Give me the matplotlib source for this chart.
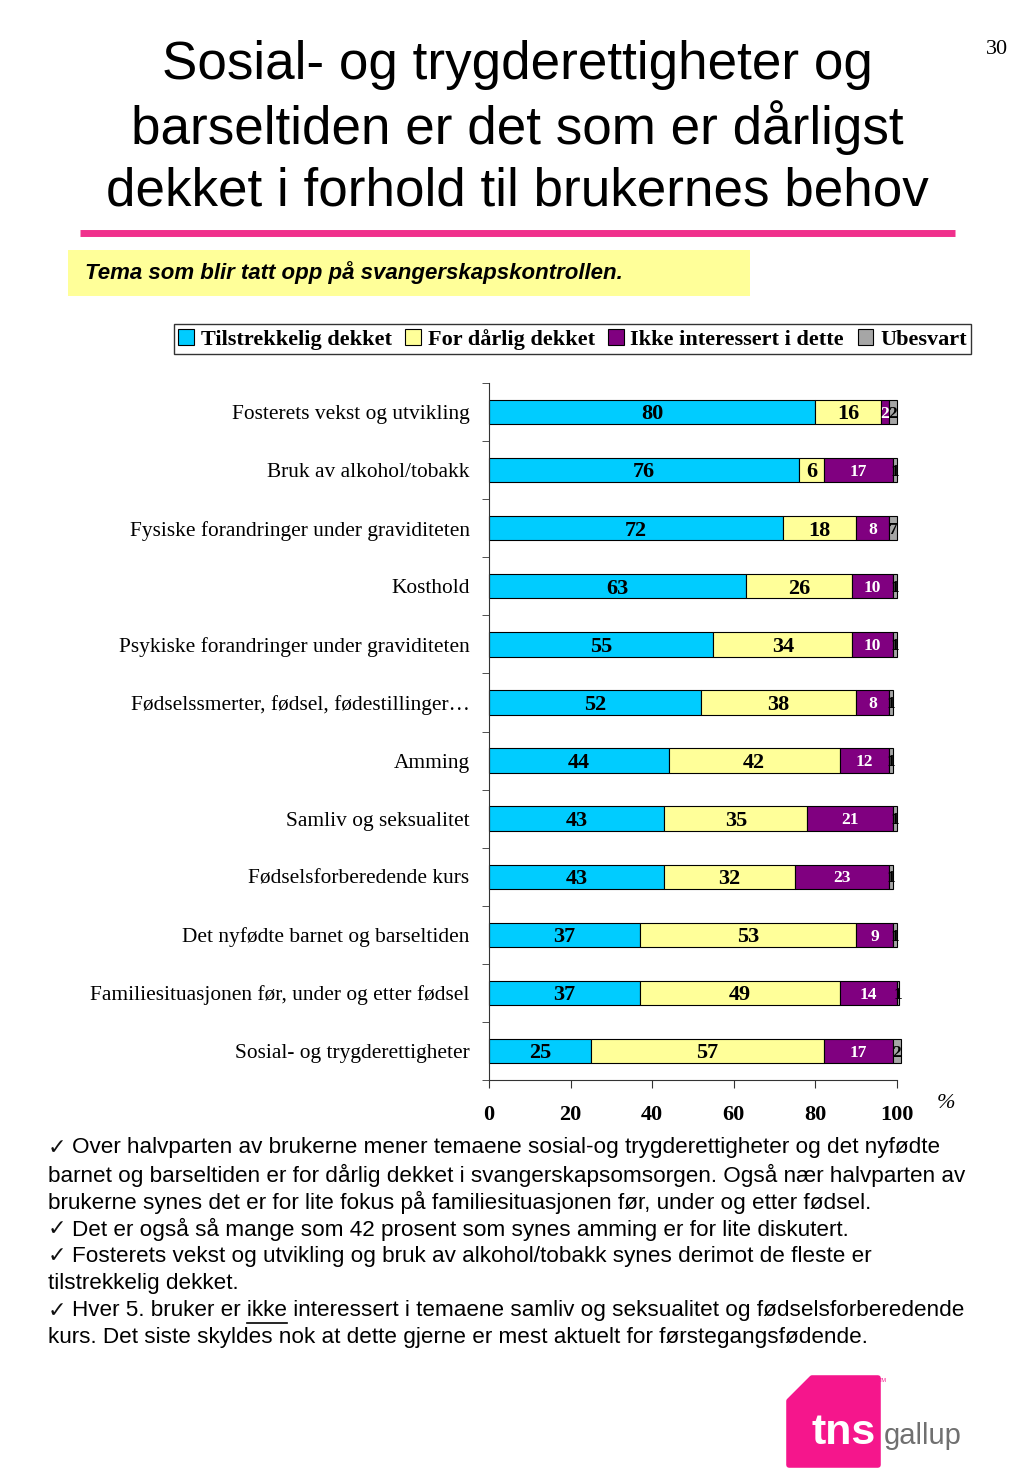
import matplotlib
matplotlib.use("Agg")
import matplotlib.pyplot as plt
import numpy as np
from matplotlib.patches import Rectangle, Polygon, Patch

categories = [
    "Fosterets vekst og utvikling",
    "Bruk av alkohol/tobakk",
    "Fysiske forandringer under graviditeten",
    "Kosthold",
    "Psykiske forandringer under graviditeten",
    "Fødselssmerter, fødsel, fødestillinger…",
    "Amming",
    "Samliv og seksualitet",
    "Fødselsforberedende kurs",
    "Det nyfødte barnet og barseltiden",
    "Familiesituasjonen før, under og etter fødsel",
    "Sosial- og trygderettigheter",
]
tilstrekkelig = [80, 76, 72, 63, 55, 52, 44, 43, 43, 37, 37, 25]
for_darlig = [16, 6, 18, 26, 34, 38, 42, 35, 32, 53, 49, 57]
ikke_interessert = [2, 17, 8, 10, 10, 8, 12, 21, 23, 9, 14, 17]
ubesvart = [2, 1, 2, 1, 1, 1, 1, 1, 1, 1, 0.5, 2]
ubesvart_labels = ["2", "1", "7", "1", "1", "1", "1", "1", "1", "1", "1", "2"]

series_names = ["Tilstrekkelig dekket", "For dårlig dekket", "Ikke interessert i dette", "Ubesvart"]
colors = ["#00CCFF", "#FFFF99", "#800080", "#A6A6A6"]
xticks = [0, 20, 40, 60, 80, 100]

W, H = 1024, 1479
fig = plt.figure(figsize=(W / 100, H / 100), dpi=100)


def fx(x):
    return x / W


def fy(y):
    return 1 - y / H


SERIF = "Liberation Serif"
SANS = "Liberation Sans"

# Title
title_lines = [
    "Sosial- og trygderettigheter og",
    "barseltiden er det som er dårligst",
    "dekket i forhold til brukernes behov",
]
for i, ln in enumerate(title_lines):
    fig.text(fx(517), fy(65 + i * 63), ln, ha="center", va="center",
             fontsize=38.2, family=SANS, color="black")
fig.text(fx(997), fy(50), "30", ha="center", va="center", fontsize=16, family=SERIF)

# pink line
fig.add_artist(plt.Line2D([fx(80), fx(955)], [fy(233), fy(233)], color="#F0308C", lw=5,
                          transform=fig.transFigure, solid_capstyle="butt"))
# yellow box
fig.add_artist(Rectangle((fx(68), fy(296)), fx(750) - fx(68), fy(250) - fy(296),
                         transform=fig.transFigure, facecolor="#FFFF99", edgecolor="none"))
fig.text(fx(85), fy(273), "Tema som blir tatt opp på svangerskapskontrollen.", ha="left", va="center",
         fontsize=16, family=SANS, fontweight="bold", fontstyle="italic")

# Axes
ax = fig.add_axes([fx(489), fy(1080), fx(897) - fx(489), (1080 - 383) / H])
n = len(categories)
y = np.arange(n)
left = np.zeros(n)
data = [tilstrekkelig, for_darlig, ikke_interessert, ubesvart]
bar_h = 0.42
for si, (vals, col) in enumerate(zip(data, colors)):
    vals = np.array(vals, dtype=float)
    ax.barh(y, vals, left=left, height=bar_h, color=col, edgecolor="black", lw=0.8, clip_on=False)
    for i in range(n):
        cx = left[i] + vals[i] / 2
        if si in (0, 1):
            ax.text(cx, y[i] + 0.04, f"{int(vals[i])}", ha="center", va="center", fontsize=16,
                    family=SERIF, fontweight="bold", color="black", clip_on=False)
        elif si == 2:
            ax.text(cx, y[i] + 0.03, f"{int(vals[i])}", ha="center", va="center", fontsize=12.5,
                    family=SERIF, fontweight="bold", color="white", clip_on=False)
        else:
            ax.text(cx, y[i] + 0.03, ubesvart_labels[i], ha="center", va="center", fontsize=12.5,
                    family=SERIF, fontweight="bold", color="black", clip_on=False)
    left = left + vals

ax.set_xlim(0, 100)
ax.set_ylim(n - 0.5, -0.5)
ax.spines["top"].set_visible(False)
ax.spines["right"].set_visible(False)
ax.spines["left"].set_color("#333333")
ax.spines["bottom"].set_color("#333333")
ax.set_yticks(y)
ax.set_yticklabels(categories, family=SERIF, fontsize=15.4)
ax.tick_params(axis="y", length=0, pad=14)
ax.set_yticks(np.arange(-0.5, n, 1.0), minor=True)
ax.tick_params(axis="y", which="minor", length=5, direction="out", color="#333333")
ax.set_xticks(xticks)
ax.set_xticklabels([str(t) for t in xticks], family=SERIF, fontsize=16, fontweight="bold")
ax.tick_params(axis="x", length=6, direction="out", pad=12, color="#333333")
fig.text(fx(946), fy(1103), "%", ha="center", va="center", fontsize=16, family=SERIF, fontstyle="italic")

# Legend
handles = [Patch(facecolor=c, edgecolor="black", lw=0.8) for c in colors]
leg = fig.legend(handles, series_names, loc="lower left",
                 bbox_to_anchor=(fx(174), fy(354), fx(971) - fx(174), fy(318) - fy(354)),
                 mode="expand", ncol=4, frameon=True, fancybox=False,
                 prop={"family": SERIF, "weight": "bold", "size": 16},
                 handlelength=0.7, handleheight=0.7, handletextpad=0.3, columnspacing=0.4,
                 borderpad=0.2, borderaxespad=0)
leg.get_frame().set_edgecolor("black")
leg.get_frame().set_linewidth(1.0)

# Bullet text
lines = [
    ("✓", "Over halvparten av brukerne mener temaene sosial-og trygderettigheter og det nyfødte"),
    (None, "barnet og barseltiden er for dårlig dekket i svangerskapsomsorgen. Også nær halvparten av"),
    (None, "brukerne synes det er for lite fokus på familiesituasjonen før, under og etter fødsel."),
    ("✓", "Det er også så mange som 42 prosent som synes amming er for lite diskutert."),
    ("✓", "Fosterets vekst og utvikling og bruk av alkohol/tobakk synes derimot de fleste er"),
    (None, "tilstrekkelig dekket."),
    ("✓", "Hver 5. bruker er ikke interessert i temaene samliv og seksualitet og fødselsforberedende"),
    (None, "kurs. Det siste skyldes nok at dette gjerne er mest aktuelt for førstegangsfødende."),
]
fam = [SANS, "DejaVu Sans"]
FS = 16.2
renderer = fig.canvas.get_renderer()
for i, (chk, txt) in enumerate(lines):
    yy = fy(1148 + i * 27.1)
    if chk:
        fig.text(fx(48), yy, chk, ha="left", va="center", fontsize=16, family="DejaVu Sans",
                 fontweight="bold", color="#111111")
        fig.text(fx(72), yy, txt, ha="left", va="center", fontsize=FS, family=fam)
        if "ikke interessert" in txt:
            pre = txt.split("ikke")[0]
            tA = fig.text(fx(72), yy, pre + "|", ha="left", va="center", fontsize=FS, family=fam, alpha=0)
            tB = fig.text(fx(72), yy, pre + "ikke|", ha="left", va="center", fontsize=FS, family=fam, alpha=0)
            tbar = fig.text(fx(72), yy, "|", ha="left", va="center", fontsize=FS, family=fam, alpha=0)
            wbar = tbar.get_window_extent(renderer).width
            eA = tA.get_window_extent(renderer)
            eB = tB.get_window_extent(renderer)
            x0 = eA.x1 - wbar
            x1 = eB.x1 - wbar
            uy = yy - 12 / H
            fig.add_artist(plt.Line2D([x0 / W, x1 / W], [uy, uy], color="black", lw=1.2,
                                      transform=fig.transFigure))
    else:
        fig.text(fx(48), yy, txt, ha="left", va="center", fontsize=FS, family=fam)

# Logo
logo = Polygon([(fx(812), fy(1378)), (fx(878), fy(1378)), (fx(878), fy(1465)),
                (fx(789), fy(1465)), (fx(789), fy(1401))], closed=True,
               transform=fig.transFigure, facecolor="#F5168C", edgecolor="#F5168C", lw=4, joinstyle="round")
fig.add_artist(logo)
fig.text(fx(812), fy(1444), "tns", ha="left", va="baseline", fontsize=31, family=SANS,
         fontweight="bold", color="white")
fig.text(fx(884), fy(1444), "gallup", ha="left", va="baseline", fontsize=21, family=SANS, color="#707070")
fig.text(fx(879), fy(1381), "TM", ha="left", va="center", fontsize=4, family=SANS, color="#F5168C")

fig.savefig("out.png", dpi=100)
